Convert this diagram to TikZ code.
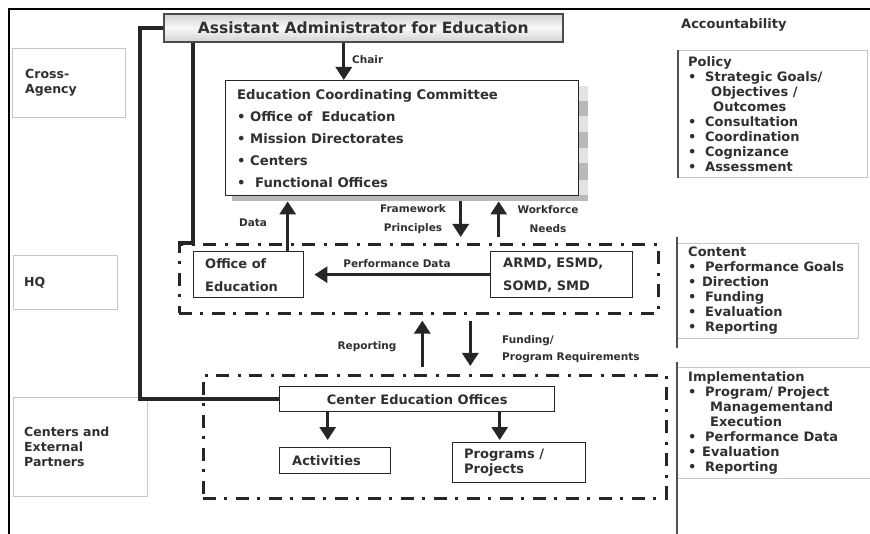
\documentclass[tikz,border=0pt]{standalone}
\usepackage{fontspec}
\setmainfont{DejaVu Sans}
\usetikzlibrary{arrows.meta,calc}
\definecolor{ink}{HTML}{262626}
\definecolor{txtc}{HTML}{303030}
\newcommand\fBig{\fontsize{15.5}{17}\selectfont\bfseries}
\newcommand\fMid{\fontsize{13}{15}\selectfont\bfseries}
\newcommand\fEcc{\fontsize{13.2}{22}\selectfont\bfseries}
\newcommand\fTwo{\fontsize{13}{23}\selectfont\bfseries}
\newcommand\fSide{\fontsize{12.5}{15}\selectfont\bfseries}
\newcommand\fSmall{\fontsize{10.5}{19}\selectfont\bfseries}
\newcommand\fSmallb{\fontsize{10.5}{17}\selectfont\bfseries}
\newcommand\bu[1][17pt]{\makebox[#1][l]{•}}
\begin{document}
\begin{tikzpicture}[x=1pt,y=-1pt,
  box/.style={draw=ink, line width=1.4pt, inner sep=0pt, anchor=north west},
  sidebox/.style={draw=gray!45, line width=0.7pt, inner sep=0pt, anchor=north west},
  dashbox/.style={draw=ink, line width=2.6pt, dash pattern=on 13pt off 8pt on 3pt off 9pt, inner sep=0pt, anchor=north west},
  arr/.style={draw=ink, line width=3pt, -{Triangle[width=16pt,length=13pt]}},
  bar/.style={draw=ink, line width=3.6pt},
  rline/.style={draw=ink!80, line width=1.6pt},
  txt/.style={text=txtc, inner sep=0pt, align=left},
  sz/.style 2 args={minimum width=#1, minimum height=#2}]
\useasboundingbox (0,0) rectangle (870,534);
\fill[white] (0,0) rectangle (870,534);
% frame
\draw[line width=2pt, black] (9,534) -- (9,9) -- (870,9);

% left row labels
\node[sidebox, sz={113}{69}] (lca) at (12,48) {};
\node[txt, anchor=west, font=\fSide] (tca) at ([xshift=13pt]lca.west) {Cross-\\Agency};
\node[sidebox, sz={104}{54}] (lhq) at (13,255) {};
\node[txt, anchor=west, font=\fSide] (thq) at ([xshift=11pt]lhq.west) {HQ};
\node[sidebox, sz={134}{99}] (lce) at (13,397) {};
\node[txt, anchor=west, font=\fSide] (tce) at ([xshift=11pt]lce.west) {Centers and\\External\\Partners};

% right column
\node[txt, anchor=west, font=\fMid] (acc) at (681,25) {Accountability};
\node[sidebox, sz={189}{127}] (pol) at (678,50) {};
\draw[rline] (pol.north west) -- (pol.south west);
\node[txt, anchor=west, font=\fMid] (tpol) at ([xshift=10pt]pol.west)
 {Policy\\\bu Strategic Goals/\\\hspace*{23pt}Objectives /\\\hspace*{25pt}Outcomes\\\bu Consultation\\\bu Coordination\\\bu Cognizance\\\bu Assessment};
\node[sidebox, sz={181}{95}] (con) at (677,243) {};
\draw[rline] ([yshift=6pt]con.north west) -- ([yshift=-9pt]con.south west);
\node[txt, anchor=west, font=\fMid] (tcon) at ([xshift=11pt]con.west)
 {Content\\\bu Performance Goals\\\bu[14pt]Direction\\\bu Funding\\\bu Evaluation\\\bu Reporting};
\node[sidebox, sz={193}{111}] (imp) at (677,367) {};
\draw[rline] ([yshift=5pt]imp.north west) -- (imp.south west |- 0,534);
\node[txt, anchor=west, font=\fMid] (timp) at ([xshift=11pt]imp.west)
 {Implementation\\\bu Program/ Project\\\hspace*{22pt}Managementand\\\hspace*{22pt}Execution\\\bu Performance Data\\\bu[14pt]Evaluation\\\bu Reporting};

% top box
\node[box, sz={399}{28}, draw=gray!60!black, line width=1.6pt, top color=gray!35, bottom color=gray!35, middle color=gray!6, font=\fBig, text=txtc] (aae) at (163,13) {Assistant Administrator for Education};

% ECC with shadow
\fill[gray!22] (579,86) rectangle (588,201);
\fill[gray!55] (579,101) rectangle (588,116);
\fill[gray!55] (579,132) rectangle (588,148);
\fill[gray!55] (579,163) rectangle (588,180);
\fill[gray!55] (232,195) rectangle (588,201);
\node[box, sz={353}{115}, fill=white] (ecc) at (225,80) {};
\node[txt, anchor=west, font=\fEcc] (tecc) at ([xshift=12pt]ecc.west)
 {Education Coordinating Committee\\\bu[13pt]Office of\ \ Education\\\bu[13pt]Mission Directorates\\\bu[13pt]Centers\\\bu[18pt]Functional Offices};

% HQ level
\node[dashbox, sz={479}{69}] (hq) at (178,243) {};
\node[box, sz={110}{46}] (oe) at (193,251) {};
\node[txt, anchor=west, font=\fTwo] (toe) at ([xshift=12pt]oe.west) {Office of\\Education};
\node[box, sz={142}{46}] (arm) at (490,251) {};
\node[txt, anchor=west, font=\fTwo] (tarm) at ([xshift=13pt]arm.west) {ARMD, ESMD,\\SOMD, SMD};

% centers level
\node[dashbox, sz={463}{123}] (cen) at (202,374) {};
\node[box, sz={275}{25}, font=\fMid, text=txtc] (ceo) at (279,386) {Center Education Offices};
\node[box, sz={111}{26}] (act) at (279,447) {};
\node[txt, anchor=west, font=\fMid] (tact) at ([xshift=13pt]act.west) {Activities};
\node[box, sz={133}{40}] (prog) at (452,442) {};
\node[txt, anchor=west, font=\fMid] (tprog) at ([xshift=12pt]prog.west) {Programs /\\Projects};

% thick lines
\draw[bar] (aae.west) -- ++(-23,0) |- (ceo.west);
\draw[bar] (aae.south -| oe.west) |- (hq.north west);

% arrows
\draw[arr] ([xshift=-19.5pt]aae.south) -- ([xshift=-19.5pt]aae.south |- ecc.north);
\node[txt, anchor=west, font=\fSmall] (lchair) at (352,60) {Chair};
\draw[arr, shorten >=5pt] ([xshift=39pt]oe.north) -- ([xshift=39pt]oe.north |- ecc.south);
\node[txt, font=\fSmall] (ldata) at (253,223) {Data};
\draw[arr, shorten <=5pt, shorten >=6pt] ([xshift=58.5pt]ecc.south) -- ([xshift=58.5pt]ecc.south |- hq.north);
\node[txt, align=center, font=\fSmall] (lfw) at (413,219.5) {Framework\\Principles};
\draw[arr, shorten <=6pt, shorten >=5pt] ([xshift=96.5pt]ecc.south |- hq.north) -- ([xshift=96.5pt]ecc.south);
\node[txt, align=center, font=\fSmall] (lwf) at (548,219.5) {Workforce\\Needs};
\draw[arr, shorten >=10pt] (arm.west) -- (oe.east);
\node[txt, font=\fSmall] (lpd) at (397,264) {Performance Data};
\draw[arr, shorten <=7pt, shorten >=6pt] ([xshift=3.5pt]hq.south |- cen.north) -- ([xshift=3.5pt]hq.south);
\node[txt, font=\fSmall] (lrep) at (367,347) {Reporting};
\draw[arr, shorten <=6pt, shorten >=8pt] ([xshift=51.5pt]hq.south) -- ([xshift=51.5pt]hq.south |- cen.north);
\node[txt, anchor=west, font=\fSmallb] (lfund) at (502,349.5) {Funding/\\Program Requirements};
\draw[arr, shorten >=7pt] ([xshift=-89.5pt]ceo.south) -- ([xshift=-89.5pt]ceo.south |- act.north);
\draw[arr, shorten >=2pt] ([xshift=82.5pt]ceo.south) -- ([xshift=82.5pt]ceo.south |- prog.north);
\end{tikzpicture}
\end{document}
